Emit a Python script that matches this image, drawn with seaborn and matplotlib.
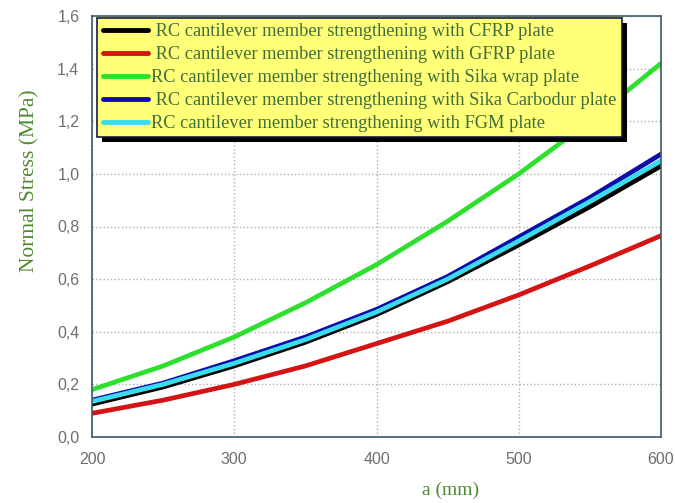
"""Naprężenia normalne w zależności od a dla różnych płyt wzmacniających."""

import matplotlib
matplotlib.use('Agg')
import matplotlib.pyplot as plt
from matplotlib.patches import Rectangle
import pandas as pd
import seaborn as sns

# dane
a_mm = [200, 250, 300, 350, 400, 450, 500, 550, 600]
cfrp = [0.125, 0.19, 0.27, 0.36, 0.465, 0.59, 0.73, 0.875, 1.03]
gfrp = [0.09, 0.14, 0.20, 0.27, 0.355, 0.44, 0.54, 0.65, 0.765]
sika_wrap = [0.18, 0.27, 0.38, 0.51, 0.655, 0.82, 1.0, 1.2, 1.42]
sika_carbodur = [0.14, 0.205, 0.29, 0.38, 0.485, 0.61, 0.76, 0.91, 1.075]
fgm = [0.135, 0.20, 0.28, 0.37, 0.475, 0.60, 0.745, 0.895, 1.05]

etykiety = [
    ' RC cantilever member strengthening with CFRP plate',
    ' RC cantilever member strengthening with GFRP plate',
    'RC cantilever member strengthening with Sika wrap plate',
    ' RC cantilever member strengthening with Sika Carbodur plate',
    'RC cantilever member strengthening with FGM plate',
]
serie = [cfrp, gfrp, sika_wrap, sika_carbodur, fgm]
kolory = ['#000000', '#d41414', '#2ee02e', '#0c0ca8', '#38dcec']

ramka = pd.concat(
    [pd.DataFrame({'a': a_mm, 'sigma': s, 'plyta': e}) for s, e in zip(serie, etykiety)]
)

sns.set_style('white')
plt.rcParams['font.family'] = ['Liberation Sans', 'DejaVu Sans']

fig = plt.figure(figsize=(6.75, 5.03), dpi=100)
ax = fig.add_axes([92 / 675, 1 - 437 / 503, 569 / 675, 421 / 503])

sns.lineplot(data=ramka, x='a', y='sigma', hue='plyta', palette=kolory,
             linewidth=3.4, ax=ax, legend=False)

ax.set_xlim(200, 600)
ax.set_ylim(0, 1.6)
ax.set_xticks([200, 300, 400, 500, 600])
ax.set_yticks([0.0, 0.2, 0.4, 0.6, 0.8, 1.0, 1.2, 1.4, 1.6])
ax.set_yticklabels([f'{v:.1f}'.replace('.', ',') for v in ax.get_yticks()])
ax.tick_params(direction='in', length=7, color='#3c5a66', labelcolor='#6e6e6e',
               labelsize=11.5, pad=9)
ax.tick_params(axis='x', pad=11)
ax.grid(True, linestyle=':', color='#b0b0b0', linewidth=1)
for s in ax.spines.values():
    s.set_color('#3c5a66')
    s.set_linewidth(1.2)

ax.set_xlabel('a (mm)', family='Liberation Serif', fontsize=14, color='#4f8a2e')
ax.set_ylabel('Normal Stress (MPa)', family='Liberation Serif', fontsize=15.5,
              color='#4f8a2e')
ax.xaxis.set_label_coords(0.63, -0.105)
ax.yaxis.set_label_coords(-0.093, 0.61)

uchwyty = [plt.Line2D([], [], color=k, linewidth=3.5) for k in kolory]
leg = ax.legend(uchwyty, etykiety, loc='upper left',
                bbox_to_anchor=(5 / 569, 1 - 2 / 421), borderaxespad=0,
                prop={'family': 'Liberation Serif', 'size': 13.2},
                labelcolor='#3f6e3a', handlelength=2.5, handletextpad=0.15,
                labelspacing=0.32, borderpad=0.3, fancybox=False,
                framealpha=1, facecolor='#ffff78', edgecolor='#1a1a40')
leg.get_frame().set_linewidth(1.2)
leg.set_zorder(5)

# cień legendy (czarny, przesunięty w prawo i w dół)
fig.canvas.draw()
bb = leg.get_window_extent()
cien = Rectangle((bb.x0 + 5, bb.y0 - 5), bb.width, bb.height,
                 transform=None, facecolor='black', edgecolor='none', zorder=4)
ax.add_artist(cien)

fig.savefig('out.png', dpi=100)
